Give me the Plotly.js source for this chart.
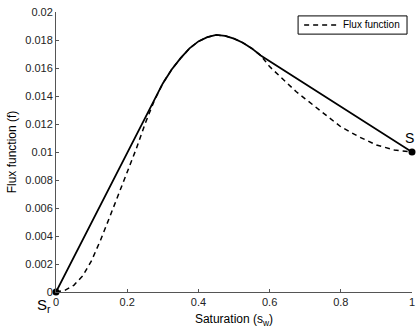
<!DOCTYPE html>
<html>
<head>
<meta charset="utf-8">
<script src="https://cdn.plot.ly/plotly-3.0.1.min.js"></script>
<style>html,body{margin:0;padding:0;background:#fff;}#chart{width:416px;height:332px;}</style>
</head>
<body>
<div id="chart"></div>
<script>
// Flux function (dashed)
var fluxS = [0, 0.025, 0.05, 0.075, 0.1, 0.125, 0.15, 0.175, 0.2, 0.225, 0.25, 0.275, 0.3, 0.325, 0.35, 0.375, 0.4, 0.425, 0.45, 0.475, 0.5, 0.525, 0.55, 0.575, 0.6, 0.625, 0.65, 0.675, 0.7, 0.75, 0.8, 0.85, 0.9, 0.95, 1];
var fluxF = [0, 0.00012, 0.00048, 0.00115, 0.00225, 0.0037, 0.0053, 0.0069, 0.0085, 0.0102, 0.0120, 0.0136, 0.0149, 0.0159, 0.0167, 0.0174, 0.0179, 0.0182, 0.01836, 0.0183, 0.0181, 0.0178, 0.0174, 0.0169, 0.0161, 0.0155, 0.0149, 0.0143, 0.0138, 0.0128, 0.0118, 0.0111, 0.0105, 0.01015, 0.0100];
// Convex hull (solid)
var hullS = [0, 0.275, 0.3, 0.325, 0.35, 0.375, 0.4, 0.425, 0.45, 0.475, 0.5, 0.525, 0.55, 0.575, 1];
var hullF = [0, 0.0136, 0.0149, 0.0159, 0.0167, 0.0174, 0.0179, 0.0182, 0.01836, 0.0183, 0.0181, 0.0178, 0.0174, 0.0169, 0.0100];
// End points
var endS = [0, 1];
var endF = [0, 0.0100];
var xTicks = [0, 0.2, 0.4, 0.6, 0.8, 1];
var xTickText = ["0", "0.2", "0.4", "0.6", "0.8", "1"];
var yTicks = [0, 0.002, 0.004, 0.006, 0.008, 0.01, 0.012, 0.014, 0.016, 0.018, 0.02];
var yTickText = ["0", "0.002", "0.004", "0.006", "0.008", "0.01", "0.012", "0.014", "0.016", "0.018", "0.02"];
var legendLabel = "Flux function";

var font = "Liberation Sans, Arial, sans-serif";
var dashStyle = "5px,4px";
var traces = [
  {x: hullS, y: hullF, mode: "lines", line: {color: "#000", width: 1.8}, showlegend: false, hoverinfo: "skip"},
  {x: fluxS, y: fluxF, mode: "lines", name: legendLabel, showlegend: false, line: {color: "#000", width: 1.5, dash: dashStyle}},
  {x: endS, y: endF, mode: "markers", marker: {color: "#000", size: 7}, showlegend: false, cliponaxis: false}
];
var layout = {
  width: 416, height: 332,
  margin: {l: 56, r: 4, t: 12, b: 40},
  paper_bgcolor: "#fff", plot_bgcolor: "#fff",
  font: {family: font, size: 11, color: "#222"},
  showlegend: false,
  xaxis: {range: [0, 1], tickvals: xTicks, ticktext: xTickText, ticks: "inside", ticklen: 3, tickcolor: "#555",
          showline: true, linecolor: "#555", linewidth: 1, showgrid: false, zeroline: false, mirror: false,
          tickfont: {size: 11}, automargin: false,
          title: {text: "Saturation (s<sub>w</sub>)", font: {size: 12, color: "#000"}, standoff: 7}},
  yaxis: {range: [0, 0.02], tickvals: yTicks, ticktext: yTickText, ticks: "inside", ticklen: 3, tickcolor: "#555",
          showline: true, linecolor: "#555", linewidth: 1, showgrid: false, zeroline: false, mirror: false,
          tickfont: {size: 11}, automargin: false,
          title: {text: "Flux function (f)", font: {size: 12, color: "#000"}, standoff: 6}},
  shapes: [
    {type: "rect", xref: "paper", yref: "paper", x0: 0.680, x1: 0.986, y0: 0.921, y1: 0.986,
     line: {color: "#000", width: 1}, fillcolor: "#fff", layer: "above"},
    {type: "line", xref: "paper", yref: "paper", x0: 0.697, x1: 0.795, y0: 0.954, y1: 0.954,
     line: {color: "#000", width: 1.5, dash: dashStyle}, layer: "above"}
  ],
  annotations: [
    {x: 0.801, y: 0.954, xref: "paper", yref: "paper", text: legendLabel, showarrow: false, xanchor: "left", yanchor: "middle",
     font: {size: 10, color: "#000"}},
    {x: 0, y: 0, xref: "x", yref: "y", text: "S<sub>r</sub>", showarrow: false, xanchor: "right", yanchor: "top",
     xshift: -3, yshift: -2, font: {size: 15, color: "#000"}},
    {x: 1, y: 0.01, xref: "x", yref: "y", text: "S", showarrow: false, xanchor: "right", yanchor: "bottom",
     xshift: 4, yshift: 4, font: {size: 14, color: "#000"}}
  ]
};
Plotly.newPlot("chart", traces, layout, {displayModeBar: false, staticPlot: true});
</script>
</body>
</html>
